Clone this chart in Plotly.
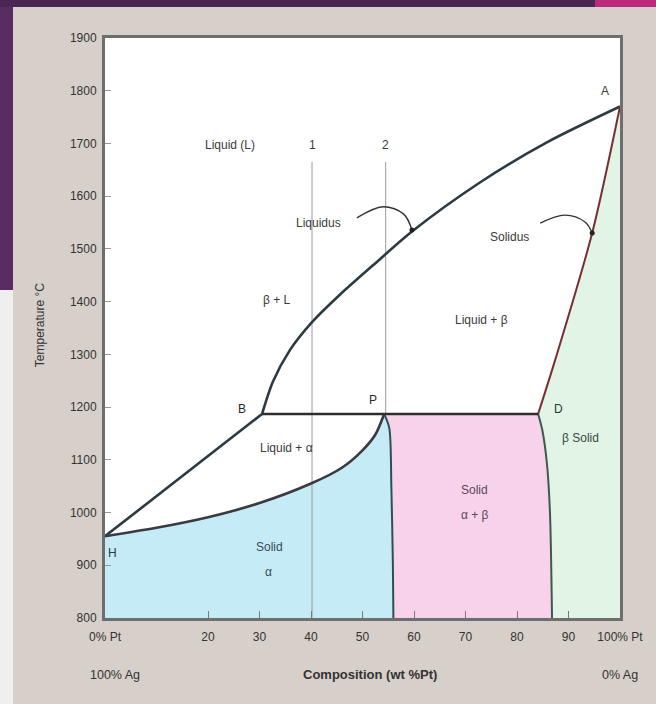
import plotly.graph_objects as go

# ---------------- data (wt % Pt, temperature °C) ----------------
liquidus_x = [30.5, 32.6, 35.9, 40.2, 45.6, 52.4, 59.6, 72.8, 85.8, 100]
liquidus_y = [1187, 1248, 1308, 1361, 1413, 1472, 1533, 1626, 1702, 1770]

bh_x = [0, 30.5]
bh_y = [955, 1187]

alpha_solidus_x = [0, 10, 20, 30, 40, 46, 50, 52.5, 54.2]
alpha_solidus_y = [955, 971, 991, 1018, 1055, 1085, 1118, 1148, 1187]

alpha_solvus_x = [54.2, 55.2, 55.6, 55.9, 56.0]
alpha_solvus_y = [1187, 1160, 1050, 900, 800]

beta_solvus_x = [84.1, 84.9, 85.8, 86.4, 86.8]
beta_solvus_y = [1187, 1157, 1094, 1000, 800]

solidus_x = [84.1, 87.4, 94.6, 100]
solidus_y = [1187, 1289, 1530, 1770]

peritectic_x = [30.5, 84.1]
peritectic_y = [1187, 1187]

comp1_x = [40.2, 40.2]
comp1_y = [1665, 800]
comp2_x = [54.5, 54.5]
comp2_y = [1665, 1187]

liq_arrow_x = [48.9, 54.0, 58.0, 59.6]
liq_arrow_y = [1559, 1580, 1566, 1536]
sol_arrow_x = [84.5, 89.3, 93.2, 94.6]
sol_arrow_y = [1549, 1564, 1551, 1530]

x_tickvals = [0, 20, 30, 40, 50, 60, 70, 80, 90, 100]
x_ticktext = ["0% Pt", "20", "30", "40", "50", "60", "70", "80", "90", "100% Pt"]
y_tickvals = [800, 900, 1000, 1100, 1200, 1300, 1400, 1500, 1600, 1700, 1800, 1900]

BLUE = "#c4ebf6"
PINK = "#f8d2ea"
GREEN = "#e1f4e6"
FONT = "Liberation Sans, Arial, sans-serif"

fig = go.Figure()

# filled regions
fig.add_trace(go.Scatter(
    x=alpha_solidus_x + alpha_solvus_x[1:] + [0],
    y=alpha_solidus_y + alpha_solvus_y[1:] + [800],
    fill="toself", fillcolor=BLUE, line=dict(width=0), mode="lines",
    hoverinfo="skip", showlegend=False))
fig.add_trace(go.Scatter(
    x=alpha_solvus_x + beta_solvus_x[::-1],
    y=alpha_solvus_y + beta_solvus_y[::-1],
    fill="toself", fillcolor=PINK, line=dict(width=0), mode="lines",
    hoverinfo="skip", showlegend=False))
fig.add_trace(go.Scatter(
    x=beta_solvus_x + [100] + solidus_x[::-1],
    y=beta_solvus_y + [800] + solidus_y[::-1],
    fill="toself", fillcolor=GREEN, line=dict(width=0), mode="lines",
    hoverinfo="skip", showlegend=False))

# composition lines 1 and 2
for xs, ys in ((comp1_x, comp1_y), (comp2_x, comp2_y)):
    fig.add_trace(go.Scatter(x=xs, y=ys, mode="lines",
                             line=dict(color="#9a9a9a", width=1),
                             hoverinfo="skip", showlegend=False))

# boundary lines
def add_line(xs, ys, color, width=2.6, spline=True):
    fig.add_trace(go.Scatter(x=xs, y=ys, mode="lines",
                             line=dict(color=color, width=width,
                                       shape="spline" if spline else "linear",
                                       smoothing=0.8),
                             hoverinfo="skip", showlegend=False))

add_line(liquidus_x, liquidus_y, "#2c3a42")
add_line(bh_x, bh_y, "#2c3a42", spline=False)
add_line(alpha_solidus_x, alpha_solidus_y, "#3a3a40")
add_line(alpha_solvus_x, alpha_solvus_y, "#2f4f55", width=2)
add_line(beta_solvus_x, beta_solvus_y, "#3d5a4c", width=2)
add_line(solidus_x, solidus_y, "#7a2e2e", width=2)
add_line(peritectic_x, peritectic_y, "#2e2e2e", width=2.6, spline=False)

# curved pointer arrows
for xs, ys in ((liq_arrow_x, liq_arrow_y), (sol_arrow_x, sol_arrow_y)):
    fig.add_trace(go.Scatter(x=xs, y=ys, mode="lines",
                             line=dict(color="#333333", width=1.4, shape="spline"),
                             hoverinfo="skip", showlegend=False))
    fig.add_trace(go.Scatter(x=[xs[-1]], y=[ys[-1]], mode="markers",
                             marker=dict(color="#222222", size=5),
                             hoverinfo="skip", showlegend=False))

# labels
labels = [
    ("Liquid (L)", 24.3, 1697, "#3a3a3a"),
    ("1", 40.2, 1697, "#3a3a3a"),
    ("2", 54.5, 1697, "#3a3a3a"),
    ("Liquidus", 41.4, 1549, "#3a3a3a"),
    ("β + L", 33.4, 1403, "#3a3a3a"),
    ("Liquid + β", 73.2, 1365, "#3a3a3a"),
    ("Solidus", 78.6, 1523, "#3a3a3a"),
    ("A", 97.1, 1800, "#3a3a3a"),
    ("B", 26.6, 1197, "#2a2a2a"),
    ("P", 52.0, 1214, "#2a2a2a"),
    ("D", 88.0, 1197, "#2a3a30"),
    ("β Solid", 92.4, 1141, "#3a4a40"),
    ("Liquid + α", 35.3, 1122, "#3a3a3a"),
    ("Solid", 32.0, 935, "#3a4a55"),
    ("α", 31.7, 887, "#3a4a55"),
    ("H", 1.4, 923, "#2a3a45"),
    ("Solid", 71.8, 1043, "#5a4858"),
    ("α + β", 71.8, 995, "#5a4858"),
]
for text, x, y, col in labels:
    fig.add_annotation(x=x, y=y, text=text, showarrow=False,
                       font=dict(family=FONT, size=12, color=col))

# outer text
fig.add_annotation(xref="paper", yref="paper", x=-0.126, y=0.505,
                   xanchor="center", yanchor="middle",
                   text="Temperature °C", textangle=-90, showarrow=False,
                   font=dict(family=FONT, size=12, color="#333333"))
fig.add_annotation(xref="paper", yref="paper", x=0.02, y=-0.098,
                   xanchor="center", yanchor="middle",
                   text="100% Ag", showarrow=False,
                   font=dict(family=FONT, size=12.5, color="#333333"))
fig.add_annotation(xref="paper", yref="paper", x=1.0, y=-0.098,
                   xanchor="center", yanchor="middle",
                   text="0% Ag", showarrow=False,
                   font=dict(family=FONT, size=12.5, color="#333333"))
fig.add_annotation(xref="paper", yref="paper", x=0.515, y=-0.098,
                   xanchor="center", yanchor="middle",
                   text="<b>Composition (wt %Pt)</b>", showarrow=False,
                   font=dict(family=FONT, size=13, color="#333333"))

# slide decoration (purple bands)
W0, Wl, Wr = -105 / 515, (13 - 105) / 515, (595 - 105) / 515
def py(p):
    return (618 - p) / 580
shapes = [
    dict(type="rect", xref="paper", yref="paper", x0=W0, x1=Wl, y0=py(290), y1=py(0),
         fillcolor="#5b2b63", line=dict(width=0)),
    dict(type="rect", xref="paper", yref="paper", x0=W0, x1=Wl, y0=py(704), y1=py(290),
         fillcolor="#f1eeee", line=dict(width=0)),
    dict(type="rect", xref="paper", yref="paper", x0=W0, x1=Wr, y0=py(7), y1=py(0),
         fillcolor="#4a2654", line=dict(width=0)),
    dict(type="rect", xref="paper", yref="paper", x0=Wr, x1=(656 - 105) / 515, y0=py(7), y1=py(0),
         fillcolor="#bb2a7c", line=dict(width=0)),
]

fig.update_layout(
    width=656, height=704,
    margin=dict(l=105, r=36, t=38, b=86),
    paper_bgcolor="#d7cfc9",
    plot_bgcolor="white",
    shapes=shapes,
    showlegend=False,
    xaxis=dict(range=[0, 100], tickvals=x_tickvals, ticktext=x_ticktext,
               ticks="inside", ticklen=7, tickcolor="#7a7a7a", tickwidth=1,
               ticklabelstandoff=6,
               showgrid=False, zeroline=False, showline=True, mirror=True,
               linecolor="#6e6e6e", linewidth=3,
               tickfont=dict(family=FONT, size=12, color="#333333")),
    yaxis=dict(range=[800, 1900], tickvals=y_tickvals,
               ticks="inside", ticklen=6, tickcolor="#9a9a9a", tickwidth=1,
               ticklabelstandoff=3,
               showgrid=False, zeroline=False, showline=True, mirror=True,
               linecolor="#6e6e6e", linewidth=3,
               tickfont=dict(family=FONT, size=12, color="#333333")),
)

fig.write_html("out.html",
               config={"displayModeBar": False},
               post_script="document.body.style.margin='0px';document.body.style.overflow='hidden';")
